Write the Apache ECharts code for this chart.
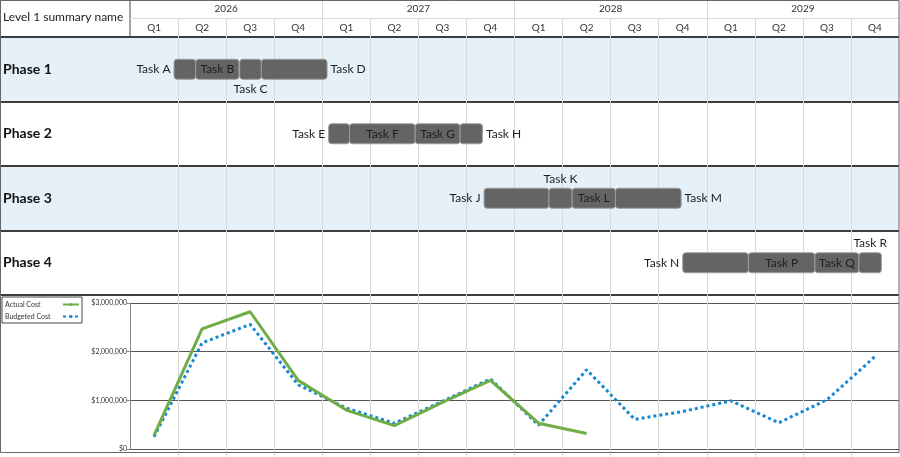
<!DOCTYPE html>
<html>
<head>
<meta charset="utf-8">
<script src="https://cdn.jsdelivr.net/npm/echarts@6/dist/echarts.min.js"></script>
<style>html,body{margin:0;padding:0;background:#fff;}#c{width:900px;height:457px;}</style>
</head>
<body>
<div id="c"></div>
<script>
// ---- data ----
const years = ['2026', '2027', '2028', '2029'];
const quarters = ['Q1', 'Q2', 'Q3', 'Q4'];
const phases = ['Phase 1', 'Phase 2', 'Phase 3', 'Phase 4'];
const summaryTitle = 'Level 1 summary name';

const taskNames  = ['Task A','Task B','Task C','Task D','Task E','Task F','Task G','Task H','Task J','Task K','Task L','Task M','Task N','Task P','Task Q','Task R'];
const taskPhase  = [0,0,0,0, 1,1,1,1, 2,2,2,2, 3,3,3,3];
// months since Jan 2026
const taskStart  = [2.75, 4.1, 6.85, 8.2, 12.4, 13.7, 17.8, 20.6, 22.1, 26.15, 27.6, 30.3, 34.5, 38.6, 42.75, 45.5];
const taskEnd    = [4.1, 6.8, 8.2, 12.3, 13.7, 17.8, 20.6, 22.0, 26.15, 27.6, 30.3, 34.4, 38.6, 42.75, 45.5, 46.9];
const taskLabelPos = ['left','inside','bottom','right','left','inside','inside','right','left','top','inside','right','left','inside','inside','top'];

const costSeriesNames = ['Actual Cost', 'Budgeted Cost'];
const actualCost   = [280000, 2470000, 2820000, 1410000, 800000, 480000, 960000, 1410000, 530000, 320000, null, null, null, null, null, null];
const budgetedCost = [250000, 2180000, 2560000, 1320000, 840000, 530000, 980000, 1440000, 490000, 1630000, 610000, 770000, 990000, 540000, 1010000, 1900000];
const costMin = 0, costMax = 3000000, costStep = 1000000;

// ---- derived ----
const quarterCats = [];
years.forEach(y => quarters.forEach(q => quarterCats.push(y + ' ' + q)));
const monthsTotal = years.length * 12;
const taskData = taskNames.map((n, i) => [taskPhase[i], taskStart[i], taskEnd[i], i]);

const FONT = 'Lato, "Open Sans", sans-serif';
const hiddenAxis = (g) => ({ type: 'value', gridIndex: g, show: false, min: 0, max: 1 });

const chart = echarts.init(document.getElementById('c'), null, { renderer: 'canvas' });
chart.setOption({
  animation: false,
  backgroundColor: '#fff',
  textStyle: { fontFamily: FONT },
  title: {
    text: summaryTitle, left: 3, top: 11, padding: 0,
    textStyle: { fontSize: 12, fontWeight: 'normal', color: '#222', fontFamily: FONT }
  },
  legend: {
    data: costSeriesNames,
    orient: 'vertical', left: 2, top: 297, align: 'right',
    itemWidth: 16, itemHeight: 4, itemGap: 5,
    padding: [4, 2, 3, 3],
    borderColor: '#444', borderWidth: 1,
    formatter: '{t|{name}}',
    textStyle: {
      fontSize: 7, color: '#333', fontFamily: FONT,
      rich: { t: { width: 53, align: 'left', fontSize: 7, color: '#333', fontFamily: FONT } }
    }
  },
  graphic: [{
    type: 'rect', z: 100, silent: true,
    shape: { x: 0.5, y: 0.5, width: 898.5, height: 452 },
    style: { fill: 'none', stroke: '#666', lineWidth: 1 }
  }],
  grid: [
    { left: 0, top: 0, width: 130, height: 37, show: true, borderColor: '#444', borderWidth: 1, backgroundColor: 'transparent' },
    { left: 130, top: 0, right: 1, height: 18 },
    { left: 130, top: 18, right: 1, height: 19 },
    { left: 0, top: 37, width: 130, height: 258, show: true, borderColor: '#444', borderWidth: 1, backgroundColor: 'transparent' },
    { left: 130, top: 37, right: 1, height: 258 },
    { left: 130, top: 295, right: 1, bottom: 0 },
    { left: 130, top: 303, right: 1, height: 146 }
  ],
  xAxis: [
    hiddenAxis(0),
    {
      type: 'category', gridIndex: 1, data: years, boundaryGap: true, position: 'bottom',
      axisLine: { show: true, lineStyle: { color: '#dadada' } },
      axisTick: { show: false },
      axisLabel: { inside: true, margin: 4, fontSize: 10, color: '#333', fontFamily: FONT },
      splitLine: { show: true, showMinLine: false, showMaxLine: false, lineStyle: { color: '#dadada' } }
    },
    {
      type: 'category', gridIndex: 2, data: quarterCats, boundaryGap: true, position: 'bottom',
      axisLine: { show: false },
      axisTick: { show: false },
      axisLabel: { inside: true, margin: 4, fontSize: 10, color: '#333', fontFamily: FONT, interval: 0,
        formatter: v => v.split(' ')[1] },
      splitLine: { show: true, showMinLine: false, showMaxLine: false, lineStyle: { color: '#dadada' } }
    },
    hiddenAxis(3),
    {
      type: 'value', gridIndex: 4, min: 0, max: monthsTotal, interval: 3,
      axisLine: { show: false }, axisTick: { show: false }, axisLabel: { show: false },
      splitLine: { show: true, showMinLine: false, showMaxLine: false, lineStyle: { color: '#d9d9d9' } }
    },
    {
      type: 'value', gridIndex: 5, min: 0, max: quarterCats.length, interval: 1,
      axisLine: { show: false }, axisTick: { show: false }, axisLabel: { show: false },
      splitLine: { show: true, showMinLine: false, showMaxLine: false, lineStyle: { color: '#d9d9d9' } }
    },
    {
      type: 'category', gridIndex: 6, data: quarterCats, boundaryGap: true,
      axisLine: { show: false }, axisTick: { show: false }, axisLabel: { show: false },
      splitLine: { show: false }
    }
  ],
  yAxis: [
    hiddenAxis(0),
    hiddenAxis(1),
    hiddenAxis(2),
    {
      type: 'category', gridIndex: 3, data: phases, inverse: true, boundaryGap: true,
      axisLine: { show: false }, axisTick: { show: false },
      axisLabel: { inside: true, margin: 3, fontSize: 14, fontWeight: 'bold', color: '#111', fontFamily: FONT },
      splitLine: { show: true, lineStyle: { color: '#3c3c3c', width: 2 } },
      splitArea: { show: true, areaStyle: { color: ['#E5F0F8', '#ffffff'] } }
    },
    {
      type: 'category', gridIndex: 4, data: phases, inverse: true, boundaryGap: true,
      axisLine: { show: false }, axisTick: { show: false }, axisLabel: { show: false },
      splitLine: { show: true, lineStyle: { color: '#3c3c3c', width: 2 } },
      splitArea: { show: true, areaStyle: { color: ['#E5F0F8', '#ffffff'] } }
    },
    hiddenAxis(5),
    {
      type: 'value', gridIndex: 6, min: costMin, max: costMax, interval: costStep,
      axisLine: { show: true, lineStyle: { color: '#888' } },
      axisTick: { show: true, length: 3, lineStyle: { color: '#888' } },
      axisLabel: { fontSize: 7, color: '#333', margin: 3, fontFamily: FONT,
        formatter: v => '$' + Math.round(v).toString().replace(/\B(?=(\d{3})+(?!\d))/g, ',') },
      splitLine: { show: true, lineStyle: { color: '#555', width: 1 } }
    }
  ],
  series: [
    {
      type: 'custom', name: 'Tasks', xAxisIndex: 4, yAxisIndex: 4,
      encode: { x: [1, 2], y: 0 },
      data: taskData,
      renderItem: function (params, api) {
        const cat = api.value(0);
        const p0 = api.coord([api.value(1), cat]);
        const p1 = api.coord([api.value(2), cat]);
        const idx = api.value(3);
        const h = 20;
        return {
          type: 'rect',
          shape: { x: p0[0], y: p0[1] - h / 2, width: p1[0] - p0[0], height: h, r: 3 },
          style: { fill: '#646464', stroke: '#9c9c9c', lineWidth: 1 },
          textContent: {
            style: { text: taskNames[idx], fill: '#1e1e1e', fontSize: 12, fontFamily: FONT }
          },
          textConfig: { position: taskLabelPos[idx], distance: 3 }
        };
      }
    },
    {
      type: 'line', name: costSeriesNames[1], xAxisIndex: 6, yAxisIndex: 6,
      data: budgetedCost, symbol: 'none', connectNulls: false,
      itemStyle: { color: '#1687D2' },
      lineStyle: { color: '#1687D2', width: 3, type: [3, 3], cap: 'butt' },
      z: 3
    },
    {
      type: 'line', name: costSeriesNames[0], xAxisIndex: 6, yAxisIndex: 6,
      data: actualCost, symbol: 'none', connectNulls: false,
      itemStyle: { color: '#70AD47' },
      lineStyle: { color: '#70AD47', width: 3 },
      z: 4
    }
  ]
});
</script>
</body>
</html>
